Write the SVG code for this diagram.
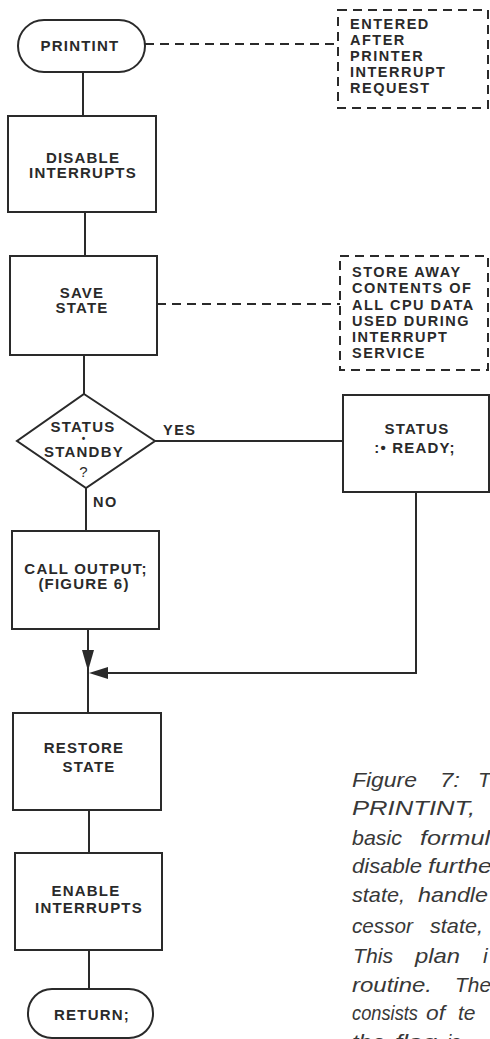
<svg xmlns="http://www.w3.org/2000/svg" width="490" height="1039" viewBox="0 0 490 1039">
<defs>
<style>
.box{fill:none;stroke:#2a2a2a;stroke-width:2}
.note{fill:none;stroke:#2a2a2a;stroke-width:2;stroke-dasharray:9 6}
.ln{fill:none;stroke:#2a2a2a;stroke-width:2}
.dl{fill:none;stroke:#2a2a2a;stroke-width:2;stroke-dasharray:9 6}
.t{font-family:"Liberation Sans",Arial,sans-serif;font-weight:bold;font-size:15px;letter-spacing:1.2px;fill:#2a2a2a;text-anchor:middle}
.n{font-family:"Liberation Sans",Arial,sans-serif;font-weight:bold;font-size:14.5px;letter-spacing:1.5px;fill:#2a2a2a}
.c{font-family:"Liberation Sans",Arial,sans-serif;font-style:italic;font-size:21px;fill:#383838}
.ah{fill:#2a2a2a;stroke:none}
</style>
</defs>
<rect width="490" height="1039" fill="#ffffff"/>

<g id="connectors">
<line class="ln" x1="83" y1="72" x2="83" y2="116"/>
<line class="ln" x1="85" y1="212" x2="85" y2="256"/>
<line class="ln" x1="84" y1="355" x2="84" y2="394"/>
<line class="ln" x1="86" y1="488" x2="86" y2="531"/>
<line class="ln" x1="155" y1="441" x2="343" y2="441"/>
<line class="ln" x1="88" y1="629" x2="88" y2="713"/>
<polyline class="ln" points="416,492 416,673 100,673"/>
<polygon class="ah" points="82,650 94,650 88,671"/>
<polygon class="ah" points="108,667 108,679 89,673"/>
<line class="ln" x1="89" y1="810" x2="89" y2="853"/>
<line class="ln" x1="89" y1="950" x2="89" y2="989"/>
<line class="dl" x1="145" y1="44" x2="338" y2="44"/>
<line class="dl" x1="157" y1="304" x2="340" y2="304"/>
<text class="n" x="163" y="435">YES</text>
<text class="n" x="93" y="507">NO</text>
</g>

<g id="printint">
<rect class="box" x="18" y="20" width="127" height="52" rx="26"/>
<text class="t" x="80" y="51">PRINTINT</text>
</g>

<g id="note-entered">
<rect class="note" x="338" y="10" width="150" height="98"/>
<text class="n" x="350" y="29">ENTERED</text>
<text class="n" x="350" y="45">AFTER</text>
<text class="n" x="350" y="61">PRINTER</text>
<text class="n" x="350" y="77">INTERRUPT</text>
<text class="n" x="350" y="93">REQUEST</text>
</g>

<g id="disable">
<rect class="box" x="8" y="116" width="148" height="96"/>
<text class="t" x="83" y="163">DISABLE</text>
<text class="t" x="83" y="178">INTERRUPTS</text>
</g>

<g id="save">
<rect class="box" x="10" y="256" width="147" height="99"/>
<text class="t" x="82" y="298">SAVE</text>
<text class="t" x="82" y="313">STATE</text>
</g>

<g id="note-store">
<rect class="note" x="340" y="256" width="148" height="114"/>
<text class="n" x="352" y="277">STORE AWAY</text>
<text class="n" x="352" y="293">CONTENTS OF</text>
<text class="n" x="352" y="310">ALL CPU DATA</text>
<text class="n" x="352" y="326">USED DURING</text>
<text class="n" x="352" y="342">INTERRUPT</text>
<text class="n" x="352" y="358">SERVICE</text>
</g>

<g id="decision">
<polygon class="box" points="84,394 155,441 86,488 17,441"/>
<text class="t" x="83" y="432">STATUS</text>
<text class="t" x="84" y="442" style="font-size:10px">•</text>
<text class="t" x="84" y="457">STANDBY</text>
<text class="t" x="84" y="477" style="font-weight:normal">?</text>
</g>

<g id="ready">
<rect class="box" x="343" y="395" width="146" height="97"/>
<text class="t" x="417" y="434">STATUS</text>
<text class="t" x="415" y="453">:• READY;</text>
</g>

<g id="call">
<rect class="box" x="12" y="531" width="147" height="98"/>
<text class="t" x="86" y="574">CALL OUTPUT;</text>
<text class="t" x="84" y="589">(FIGURE 6)</text>
</g>

<g id="restore">
<rect class="box" x="13" y="713" width="148" height="97"/>
<text class="t" x="84" y="753">RESTORE</text>
<text class="t" x="89" y="772">STATE</text>
</g>

<g id="enable">
<rect class="box" x="15" y="853" width="147" height="97"/>
<text class="t" x="86" y="896">ENABLE</text>
<text class="t" x="89" y="913">INTERRUPTS</text>
</g>

<g id="return">
<rect class="box" x="28" y="989" width="125" height="49" rx="24"/>
<text class="t" x="92" y="1020">RETURN;</text>
</g>

<g id="caption">
<text class="c" x="352" y="787" textLength="65" lengthAdjust="spacingAndGlyphs">Figure</text>
<text class="c" x="440" y="787" textLength="20" lengthAdjust="spacingAndGlyphs">7:</text>
<text class="c" x="478" y="787">T</text>
<text class="c" x="352" y="815" textLength="123" lengthAdjust="spacingAndGlyphs">PRINTINT,</text>
<text class="c" x="352" y="845" textLength="50" lengthAdjust="spacingAndGlyphs">basic</text>
<text class="c" x="420" y="845" textLength="70" lengthAdjust="spacingAndGlyphs">formul</text>
<text class="c" x="352" y="873" textLength="70" lengthAdjust="spacingAndGlyphs">disable</text>
<text class="c" x="428" y="873" textLength="64" lengthAdjust="spacingAndGlyphs">furthe</text>
<text class="c" x="352" y="902" textLength="53" lengthAdjust="spacingAndGlyphs">state,</text>
<text class="c" x="418" y="902" textLength="70" lengthAdjust="spacingAndGlyphs">handle</text>
<text class="c" x="352" y="933" textLength="61" lengthAdjust="spacingAndGlyphs">cessor</text>
<text class="c" x="430" y="933" textLength="53" lengthAdjust="spacingAndGlyphs">state,</text>
<text class="c" x="353" y="963" textLength="40" lengthAdjust="spacingAndGlyphs">This</text>
<text class="c" x="415" y="963" textLength="45" lengthAdjust="spacingAndGlyphs">plan</text>
<text class="c" x="483" y="963">i</text>
<text class="c" x="352" y="992" textLength="80" lengthAdjust="spacingAndGlyphs">routine.</text>
<text class="c" x="455" y="992" textLength="36" lengthAdjust="spacingAndGlyphs">The</text>
<text class="c" x="352" y="1020" textLength="66" lengthAdjust="spacingAndGlyphs">consists</text>
<text class="c" x="426" y="1020" textLength="19" lengthAdjust="spacingAndGlyphs">of</text>
<text class="c" x="458" y="1020">te</text>
<text class="c" x="352" y="1049" textLength="33" lengthAdjust="spacingAndGlyphs">the</text>
<text class="c" x="395" y="1049" textLength="42" lengthAdjust="spacingAndGlyphs">flag</text>
<text class="c" x="447" y="1049" textLength="14" lengthAdjust="spacingAndGlyphs">is</text>
</g>
</svg>
